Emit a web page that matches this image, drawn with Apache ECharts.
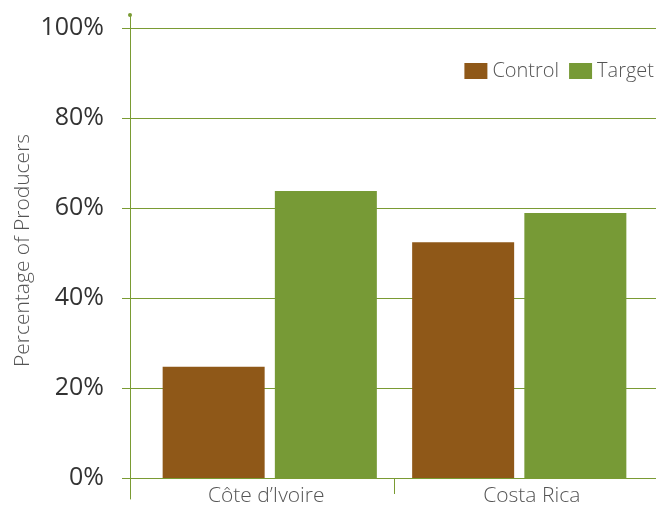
<!DOCTYPE html>
<html>
<head>
<meta charset="utf-8">
<script src="https://cdn.jsdelivr.net/npm/echarts@6/dist/echarts.min.js"></script>
<style>html,body{margin:0;padding:0;background:#fff}#c{width:657px;height:506px}</style>
</head>
<body>
<div id="c"></div>
<script>
const categories = ['Côte d\u2019Ivoire', 'Costa Rica'];
const seriesNames = ['Control', 'Target'];
const controlValues = [24.7, 52.4];
const targetValues = [63.8, 58.9];
const yMin = 0, yMax = 100, yStep = 20;

const GREEN_LINE = '#7A9B33';
const FONT = '"Open Sans", "Noto Sans", sans-serif';
const catLabelStyle = {fontFamily: FONT, fontSize: 21, color: '#555', fontWeight: 300};

const chart = echarts.init(document.getElementById('c'), null, {renderer: 'canvas'});
chart.setOption({
  animation: false,
  backgroundColor: '#fff',
  legend: {
    data: seriesNames,
    right: 3, top: 60,
    icon: 'rect', itemWidth: 23, itemHeight: 16, itemGap: 10, padding: 0,
    textStyle: {fontFamily: FONT, fontSize: 20, color: '#555', fontWeight: 300, lineHeight: 22}
  },
  grid: [
    {left: 145, right: 13, top: 28, bottom: 28, outerBoundsMode: 'none', containLabel: false},
    {left: 122, right: 1, top: 28, bottom: 28, outerBoundsMode: 'none', containLabel: false},
    {left: 130, width: 10, top: 15, bottom: 7, outerBoundsMode: 'none', containLabel: false},
    {left: 145, right: 13, top: 478, height: 16, outerBoundsMode: 'none', containLabel: false}
  ],
  xAxis: [
    {gridIndex: 0, type: 'category', data: categories,
     axisLine: {show: false}, axisTick: {show: false},
     axisLabel: {
       margin: 8,
       formatter: function (v, i) { return (i === 0 ? '{a|' : '{b|') + v + '}'; },
       rich: {
         a: Object.assign({padding: [0, 7, 0, 0]}, catLabelStyle),
         b: Object.assign({padding: [0, 0, 0, 25]}, catLabelStyle)
       }
     }},
    {gridIndex: 1, type: 'value', show: false, min: 0, max: 1},
    {gridIndex: 2, type: 'value', show: false, min: 0, max: 1},
    {gridIndex: 3, type: 'category', data: categories,
     axisLine: {show: false}, axisTick: {show: false}, axisLabel: {show: false},
     splitLine: {show: true, showMinLine: false, showMaxLine: false, lineStyle: {color: GREEN_LINE, width: 1}}}
  ],
  yAxis: [
    {gridIndex: 0, type: 'value', min: yMin, max: yMax, interval: yStep, show: false},
    {gridIndex: 1, type: 'value', min: yMin, max: yMax, interval: yStep,
     name: 'Percentage of Producers', nameLocation: 'middle', nameRotate: 90, nameGap: 88,
     nameMoveOverlap: false,
     nameTextStyle: {fontFamily: FONT, fontSize: 21, color: '#555', fontWeight: 300, padding: [0, 0, 0, 5]},
     axisLine: {show: false}, axisTick: {show: false},
     axisLabel: {formatter: '{value}%', fontFamily: FONT, fontSize: 25, color: '#333', margin: 18, fontWeight: 400},
     splitLine: {show: true, lineStyle: {color: GREEN_LINE, width: 1}}},
    {gridIndex: 2, type: 'value', min: 0, max: 1,
     axisLine: {show: true, lineStyle: {color: GREEN_LINE, width: 1}, symbol: ['none', 'circle'], symbolSize: [4, 4]},
     axisTick: {show: false}, axisLabel: {show: false}, splitLine: {show: false}},
    {gridIndex: 3, type: 'value', show: false}
  ],
  series: [
    {name: seriesNames[0], type: 'bar', xAxisIndex: 0, yAxisIndex: 0, data: controlValues,
     barWidth: 102, barGap: '10%', itemStyle: {color: '#8F5818'}},
    {name: seriesNames[1], type: 'bar', xAxisIndex: 0, yAxisIndex: 0, data: targetValues,
     barWidth: 102, barGap: '10%', itemStyle: {color: '#779A36'}}
  ]
});
</script>
</body>
</html>
